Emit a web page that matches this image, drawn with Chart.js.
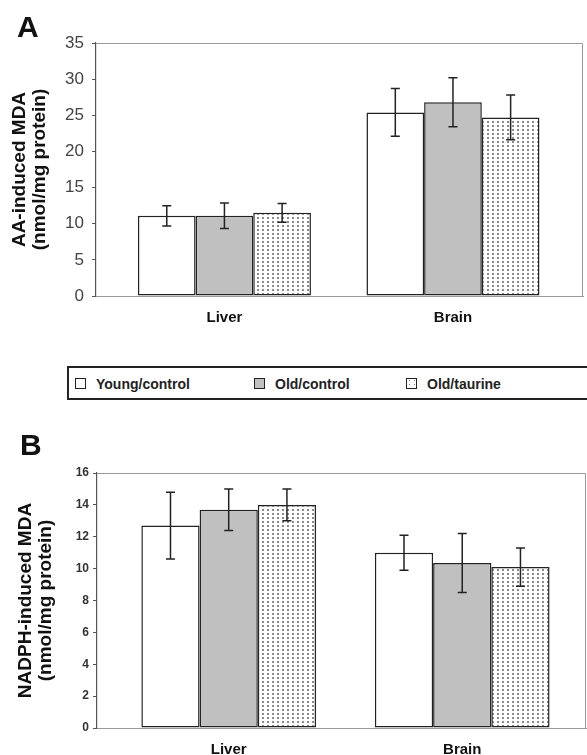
<!DOCTYPE html>
<html>
<head>
<meta charset="utf-8">
<script src="https://cdn.jsdelivr.net/npm/chart.js@4/dist/chart.umd.min.js"></script>
<style>
  html,body{margin:0;padding:0;background:#fff;}
  body{width:587px;height:755px;position:relative;overflow:hidden;font-family:"Liberation Sans",Arial,sans-serif;}
  #wrapA{position:absolute;left:0;top:0;width:587px;height:330px;}
  #wrapB{position:absolute;left:0;top:400px;width:587px;height:355px;}
  .letter{position:absolute;font-weight:bold;font-size:30px;line-height:30px;color:#111;}
  #legend{position:absolute;left:67px;top:366px;width:540px;height:34px;border:2px solid #222;box-sizing:border-box;font-weight:bold;font-size:14px;color:#222;}
  .item{position:absolute;top:8px;height:16px;line-height:16px;}
  .sw{position:absolute;top:2px;left:0;width:11px;height:11px;border:1.5px solid #222;box-sizing:border-box;}
  .lbl{position:absolute;left:21px;top:0;white-space:nowrap;}
</style>
</head>
<body>
<div id="wrapA"><canvas id="chartA" width="587" height="330"></canvas></div>
<div id="wrapB"><canvas id="chartB" width="587" height="355"></canvas></div>
<div class="letter" style="left:17px;top:12px;">A</div>
<div class="letter" style="left:20px;top:430px;">B</div>
<div id="legend">
  <div class="item" style="left:6px;"><div class="sw" style="background:#fff"></div><div class="lbl">Young/control</div></div>
  <div class="item" style="left:185px;"><div class="sw" style="background:#c0c0c0"></div><div class="lbl">Old/control</div></div>
  <div class="item" style="left:337px;"><div class="sw" id="swDot" style="background:#fff"></div><div class="lbl">Old/taurine</div></div>
</div>
<script>
// ---- data ----
const categories = ['Liver', 'Brain'];
const seriesNames = ['Young/control', 'Old/control', 'Old/taurine'];

// Panel A: AA-induced MDA
const aYoungControl = [11.1, 25.4];
const aOldControl   = [11.1, 26.8];
const aOldTaurine   = [11.5, 24.7];
const aYoungControlErr = [1.4, 3.3];
const aOldControlErr   = [1.75, 3.4];
const aOldTaurineErr   = [1.3, 3.1];
const aTicks = [0, 5, 10, 15, 20, 25, 30, 35];

// Panel B: NADPH-induced MDA
const bYoungControl = [12.7, 11.0];
const bOldControl   = [13.7, 10.35];
const bOldTaurine   = [14.0, 10.1];
const bYoungControlErr = [2.1, 1.1];
const bOldControlErr   = [1.3, 1.85];
const bOldTaurineErr   = [1.0, 1.2];
const bTicks = [0, 2, 4, 6, 8, 10, 12, 14, 16];

// ---- pattern ----
function dotPattern() {
  const c = document.createElement('canvas');
  c.width = 5; c.height = 4;
  const x = c.getContext('2d');
  x.fillStyle = '#fff'; x.fillRect(0, 0, 5, 4);
  x.fillStyle = '#8a8a8a'; x.fillRect(2, 1, 2, 2);
  return x.createPattern(c, 'repeat');
}
const pat = dotPattern();
(function(){
  const c = document.createElement('canvas'); c.width=5; c.height=4;
  const x=c.getContext('2d'); x.fillStyle='#fff'; x.fillRect(0,0,5,4); x.fillStyle='#8a8a8a'; x.fillRect(2,1,1,1);
  document.getElementById('swDot').style.backgroundImage='url('+c.toDataURL()+')';
})();

const fills = ['#ffffff', '#c0c0c0', pat];

const errorBars = {
  id: 'errorBars',
  afterDatasetsDraw(chart) {
    const ctx = chart.ctx;
    const ys = chart.scales.y;
    ctx.save();
    ctx.strokeStyle = '#222';
    ctx.lineWidth = 1.5;
    chart.data.datasets.forEach((ds, i) => {
      const meta = chart.getDatasetMeta(i);
      meta.data.forEach((bar, j) => {
        const v = ds.data[j].y, e = ds.errors[j];
        const yt = ys.getPixelForValue(v + e);
        const yb = ys.getPixelForValue(v - e);
        const cap = 4.5;
        ctx.beginPath();
        ctx.moveTo(bar.x, yt); ctx.lineTo(bar.x, yb);
        ctx.moveTo(bar.x - cap, yt); ctx.lineTo(bar.x + cap, yt);
        ctx.moveTo(bar.x - cap, yb); ctx.lineTo(bar.x + cap, yb);
        ctx.stroke();
      });
    });
    ctx.restore();
  }
};

const frame = {
  id: 'frame',
  beforeDatasetsDraw(chart) {
    const a = chart.chartArea, ctx = chart.ctx;
    ctx.save();
    ctx.strokeStyle = '#9a9a9a';
    ctx.lineWidth = 1;
    ctx.beginPath();
    ctx.moveTo(a.left, a.top + 0.5); ctx.lineTo(a.right - 0.5, a.top + 0.5);
    ctx.lineTo(a.right - 0.5, a.bottom);
    ctx.stroke();
    ctx.restore();
  }
};

function makeChart(id, vals, errs, ticks, maxV, titleLines, cfg) {
  return new Chart(document.getElementById(id), {
    type: 'bar',
    data: {
      datasets: seriesNames.map((n, i) => ({
        label: n,
        data: categories.map((c, j) => ({ x: j, y: vals[i][j] })),
        errors: errs[i],
        backgroundColor: fills[i],
        borderColor: '#222',
        borderWidth: 1.5,
        borderSkipped: false,
        categoryPercentage: cfg.groupPct,
        barPercentage: 1.0
      }))
    },
    options: {
      responsive: false,
      animation: false,
      devicePixelRatio: 1,
      layout: { padding: { top: cfg.padTop, right: cfg.padRight, left: 0, bottom: 0 } },
      plugins: { legend: { display: false }, tooltip: { enabled: false }, title: { display: false } },
      scales: {
        x: {
          type: 'linear',
          offset: false,
          min: cfg.xMin, max: cfg.xMax,
          afterBuildTicks(s) { s.ticks = categories.map((c, j) => ({ value: j })); },
          grid: { display: false },
          border: { display: true, color: '#9a9a9a', width: 1 },
          ticks: {
            autoSkip: false, maxRotation: 0,
            callback: (v) => categories[v],
            color: '#111', font: { family: 'Liberation Sans', size: 15, weight: 'bold' }, padding: 5
          },
          afterFit(s) { s.height = cfg.xH; }
        },
        y: {
          min: 0, max: maxV,
          afterBuildTicks(s) { s.ticks = ticks.map(v => ({ value: v })); },
          grid: { drawOnChartArea: false, drawTicks: true, tickLength: 4, color: '#555' },
          border: { display: true, color: '#555', width: 1.2 },
          ticks: { color: cfg.tickColor, font: cfg.tickFont, padding: cfg.tickPad },
          title: {
            display: true,
            text: titleLines,
            color: '#111',
            font: { family: 'Liberation Sans', size: 19, weight: 'bold', lineHeight: 1.05 },
            padding: { top: cfg.titlePad, bottom: 0 }
          },
          afterFit(s) { s.width = cfg.yW; }
        }
      }
    },
    plugins: [frame, errorBars]
  });
}

makeChart('chartA',
  [aYoungControl, aOldControl, aOldTaurine],
  [aYoungControlErr, aOldControlErr, aOldTaurineErr],
  aTicks, 35, ['AA-induced MDA', '(nmol/mg protein)'],
  { yW: 96, xH: 34, padTop: 43, padRight: 4, tickFont: { family: 'Liberation Sans', size: 17 },
    tickPad: 8, tickColor: '#444', titlePad: 10, xMin: -0.562, xMax: 1.569, groupPct: 0.757 });

makeChart('chartB',
  [bYoungControl, bOldControl, bOldTaurine],
  [bYoungControlErr, bOldControlErr, bOldTaurineErr],
  bTicks, 16, ['NADPH-induced MDA', '(nmol/mg protein)'],
  { yW: 97, xH: 27, padTop: 73, padRight: 1, tickFont: { family: 'Liberation Sans', size: 12, weight: 'bold' },
    tickPad: 4, tickColor: '#333', titlePad: 16, xMin: -0.564, xMax: 1.53, groupPct: 0.748 });
</script>
</body>
</html>
